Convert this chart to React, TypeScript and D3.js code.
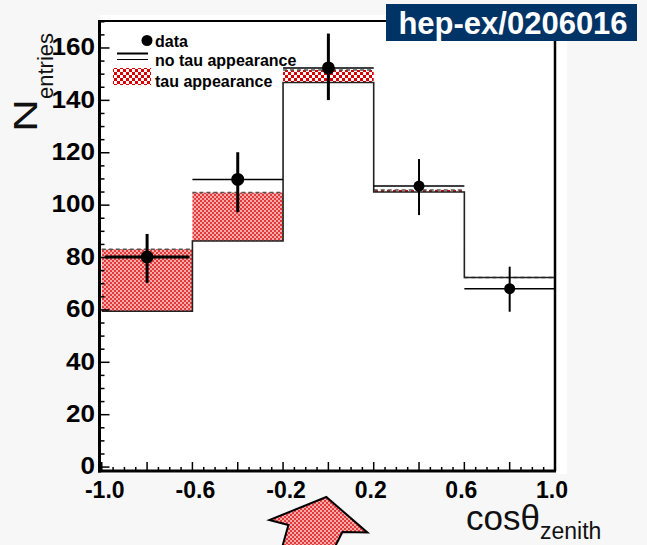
import React, { useEffect, useRef } from 'react';
import * as d3 from 'd3';

// histogram bins in cos(zenith)
const binEdges = [-1.0, -0.6, -0.2, 0.2, 0.6, 1.0];
const noTau = [59.5, 86.3, 146.8, 105.0, 72.4];
const withTau = [83.2, 104.8, 151.6, 105.8, 72.4];

// data points with error bars
const dataX = [-0.8, -0.4, 0.0, 0.4, 0.8];
const dataY = [80.2, 109.8, 152.4, 107.3, 68.1];
const errLow = [70.3, 97.3, 140.1, 96.2, 59.3];
const errHigh = [89.0, 120.2, 165.5, 117.6, 76.5];

const xTickLabels = ['-1.0', '-0.6', '-0.2', '0.2', '0.6', '1.0'];
const yTickValues = [0, 20, 40, 60, 80, 100, 120, 140, 160];
const legendLabels = ['data', 'no tau appearance', 'tau appearance'];
const badgeText = 'hep-ex/0206016';

const FONT = '"Liberation Sans", Arial, Helvetica, sans-serif';

const App = () => {
  const svgRef = useRef(null);

  useEffect(() => {
    const W = 647, H = 545;
    const svg = d3.select(svgRef.current);
    svg.selectAll('*').remove();

    const x = d3.scaleLinear().domain([-1.01, 1.0]).range([99.5, 555]);
    const y = d3.scaleLinear().domain([-1.5, 170.3]).range([471, 21]);
    const [x0, x1] = x.range();
    const [yb, yt] = y.range();

    // patterns
    const defs = svg.append('defs');
    const salmon = defs.append('pattern').attr('id', 'salmon')
      .attr('patternUnits', 'userSpaceOnUse').attr('width', 4).attr('height', 4);
    salmon.append('rect').attr('width', 4).attr('height', 4).attr('fill', '#f6aaaa');
    salmon.append('rect').attr('width', 2).attr('height', 2).attr('fill', '#e23a3a');
    salmon.append('rect').attr('x', 2).attr('y', 2).attr('width', 2).attr('height', 2).attr('fill', '#e23a3a');
    const checker = defs.append('pattern').attr('id', 'checker')
      .attr('patternUnits', 'userSpaceOnUse').attr('width', 6).attr('height', 6);
    checker.append('rect').attr('width', 6).attr('height', 6).attr('fill', '#ffffff');
    checker.append('rect').attr('width', 3).attr('height', 3).attr('fill', '#d80000');
    checker.append('rect').attr('x', 3).attr('y', 3).attr('width', 3).attr('height', 3).attr('fill', '#d80000');

    // page background and white pad behind the plot
    svg.append('rect').attr('width', W).attr('height', H).attr('fill', '#f7f7f7');
    svg.append('rect').attr('x', x0).attr('y', yt - 6).attr('width', x1 - x0 + 12)
      .attr('height', yb - yt + 9).attr('fill', '#ffffff');

    const bins = noTau.map((v, i) => ({ lo: binEdges[i], hi: binEdges[i + 1], noTau: v, withTau: withTau[i] }));

    // tau appearance band
    svg.append('g').selectAll('rect')
      .data(bins.filter(d => d.withTau > d.noTau))
      .join('rect')
      .attr('x', d => x(d.lo))
      .attr('y', d => y(d.withTau))
      .attr('width', d => x(d.hi) - x(d.lo))
      .attr('height', d => y(d.noTau) - y(d.withTau))
      .attr('fill', d => (d.withTau - d.noTau > 8 ? 'url(#salmon)' : 'url(#checker)'));

    // tau appearance top edge (dashed)
    svg.append('g').selectAll('line')
      .data(bins)
      .join('line')
      .attr('x1', d => x(d.lo)).attr('x2', d => x(d.hi))
      .attr('y1', d => y(d.withTau)).attr('y2', d => y(d.withTau))
      .attr('stroke', '#555').attr('stroke-width', 1.5).attr('stroke-dasharray', '4,3');

    // no tau appearance histogram (solid step)
    const stepPts = [];
    bins.forEach(d => {
      stepPts.push([x(d.lo), y(d.noTau)]);
      stepPts.push([x(d.hi), y(d.noTau)]);
    });
    svg.append('path')
      .attr('d', d3.line()(stepPts))
      .attr('fill', 'none').attr('stroke', '#222').attr('stroke-width', 1.6);

    // data points
    const pts = dataX.map((v, i) => ({ x: v, y: dataY[i], lo: errLow[i], hi: errHigh[i], i }));
    const dg = svg.append('g');
    dg.selectAll('line.h').data(pts).join('line').attr('class', 'h')
      .attr('x1', d => x(binEdges[d.i]) + (d.i === 0 ? 3 : 0))
      .attr('x2', d => x(binEdges[d.i + 1]) - (d.i === 0 ? 3 : 0))
      .attr('y1', d => y(d.y)).attr('y2', d => y(d.y))
      .attr('stroke', '#000').attr('stroke-width', d => (d.i === 0 ? 3 : 1.5));
    dg.selectAll('line.v').data(pts).join('line').attr('class', 'v')
      .attr('x1', d => x(d.x)).attr('x2', d => x(d.x))
      .attr('y1', d => y(d.lo)).attr('y2', d => y(d.hi))
      .attr('stroke', '#000').attr('stroke-width', d => (d.i < 3 ? 3 : 2));
    dg.selectAll('circle').data(pts).join('circle')
      .attr('cx', d => x(d.x)).attr('cy', d => y(d.y))
      .attr('r', d => (d.i < 3 ? 6.5 : 5.5)).attr('fill', '#000');

    // frame
    svg.append('line').attr('x1', x0).attr('x2', x1).attr('y1', yt).attr('y2', yt)
      .attr('stroke', '#000').attr('stroke-width', 2);
    svg.append('line').attr('x1', x1).attr('x2', x1).attr('y1', yt).attr('y2', yb)
      .attr('stroke', '#000').attr('stroke-width', 2.5);
    svg.append('line').attr('x1', x0).attr('x2', x0).attr('y1', yt - 1).attr('y2', yb + 1.5)
      .attr('stroke', '#000').attr('stroke-width', 3);
    svg.append('line').attr('x1', x0 - 1.5).attr('x2', x1 + 1).attr('y1', yb).attr('y2', yb)
      .attr('stroke', '#000').attr('stroke-width', 3);

    // y ticks
    const yTicks = d3.range(0, 170.01, 5);
    svg.append('g').selectAll('line').data(yTicks).join('line')
      .attr('x1', x0).attr('x2', d => x0 + (d % 20 === 0 ? 10 : 5))
      .attr('y1', d => y(d)).attr('y2', d => y(d))
      .attr('stroke', '#000').attr('stroke-width', 1.5);
    svg.append('g').selectAll('text').data(yTickValues).join('text')
      .attr('x', x0 - 4.5).attr('y', d => y(d) - 1).attr('dy', '0.36em')
      .attr('text-anchor', 'end')
      .style('font-family', FONT).style('font-weight', 'bold').style('font-size', '23px')
      .attr('textLength', d => String(d).length * 14.5).attr('lengthAdjust', 'spacingAndGlyphs')
      .text(d => d);

    // x ticks
    const xTicks = d3.range(-20, 21).map(k => k * 0.05);
    svg.append('g').selectAll('line').data(xTicks).join('line')
      .attr('x1', d => x(d)).attr('x2', d => x(d))
      .attr('y1', yb).attr('y2', (d, k) => yb - ((k % 4) === 0 ? 9 : 4))
      .attr('stroke', '#000').attr('stroke-width', 1.5);
    svg.append('g').selectAll('text').data(xTickLabels).join('text')
      .attr('x', d => x(+d) + (+d < 0 ? 3 : -3)).attr('y', 498)
      .attr('text-anchor', 'middle')
      .style('font-family', FONT).style('font-weight', 'bold').style('font-size', '23px')
      .text(d => d);

    // axis titles
    const xt = svg.append('text').attr('x', 466).attr('y', 530)
      .style('font-family', FONT).style('fill', '#111');
    xt.append('tspan').style('font-size', '35px').text('cos\u03b8');
    xt.append('tspan').attr('dy', 9).style('font-size', '23px').text('zenith');

    const yTitle = svg.append('text').attr('transform', 'translate(37,132) rotate(-90)')
      .style('font-family', FONT).style('fill', '#111');
    yTitle.append('tspan').style('font-size', '34px')
      .attr('textLength', 33).attr('lengthAdjust', 'spacingAndGlyphs').text('N');
    yTitle.append('tspan').attr('dy', 16).style('font-size', '22px').text('entries');

    // legend
    const lg = svg.append('g').style('font-family', FONT).style('font-weight', 'bold').style('font-size', '16px');
    lg.append('circle').attr('cx', 147).attr('cy', 40.5).attr('r', 5.5).attr('fill', '#000');
    lg.append('line').attr('x1', 117).attr('x2', 148).attr('y1', 53.5).attr('y2', 53.5)
      .attr('stroke', '#000').attr('stroke-width', 2);
    lg.append('line').attr('x1', 117).attr('x2', 148).attr('y1', 59.5).attr('y2', 59.5)
      .attr('stroke', '#000').attr('stroke-width', 1);
    lg.append('rect').attr('x', 113).attr('y', 68).attr('width', 38).attr('height', 17)
      .attr('fill', 'url(#checker)');
    lg.selectAll('text').data(legendLabels).join('text')
      .attr('x', 155).attr('y', (d, i) => [46.5, 66, 86.5][i])
      .text(d => d);

    // arrow pointing at the tau bin
    const tx = x(0) - 2;
    const arrow = [[tx, 497], [tx + 41, 532.5], [tx + 16, 532], [tx + 7, 550], [tx - 45, 550],
      [tx - 38, 525], [tx - 57, 520]];
    svg.append('path')
      .attr('d', d3.line()(arrow) + 'Z')
      .attr('fill', 'url(#salmon)').attr('stroke', '#000').attr('stroke-width', 2)
      .attr('stroke-linejoin', 'miter');

    // reference badge
    svg.append('rect').attr('x', 386).attr('y', 4).attr('width', 251).attr('height', 37)
      .attr('fill', '#003366');
    svg.append('text').attr('x', 513).attr('y', 33.5).attr('text-anchor', 'middle')
      .style('font-family', FONT).style('font-weight', 'bold').style('font-size', '31px')
      .style('fill', '#ffffff')
      .text(badgeText);
  }, []);

  return (
    <svg ref={svgRef} width={647} height={545}
      style={{ position: 'absolute', left: 0, top: 0, display: 'block' }} />
  );
};

export default App;
